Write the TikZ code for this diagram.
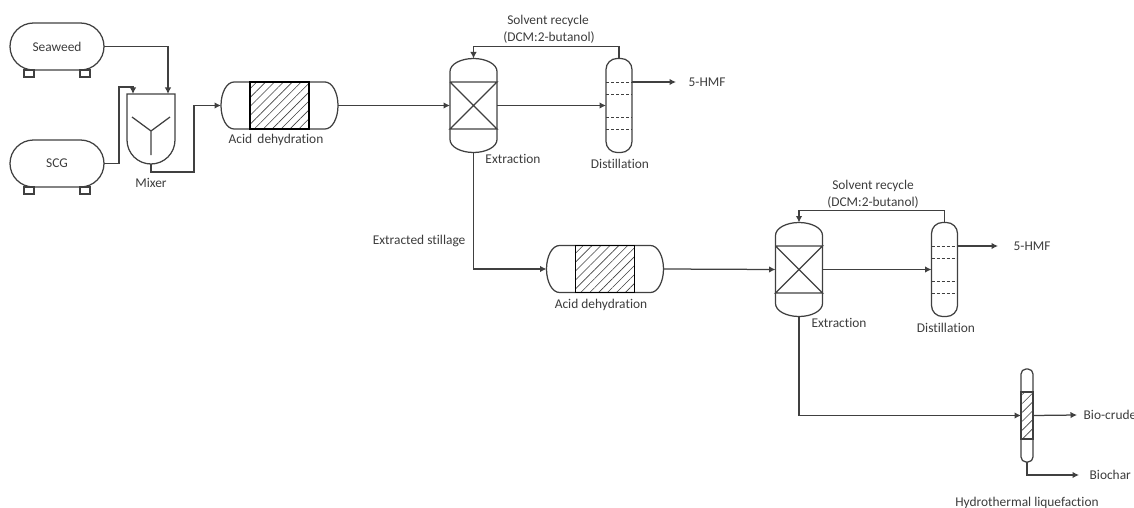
\documentclass[tikz,border=0pt]{standalone}
\usepackage{fontspec}
\setmainfont[Ligatures=NoCommon]{Carlito}
\usetikzlibrary{patterns.meta,arrows.meta}
\definecolor{linegray}{HTML}{404040}
\definecolor{textgray}{HTML}{3C3C3C}
\tikzset{
hitbox/.style={inner sep=0pt,outer sep=0pt,minimum width=#1},
tank/.style={draw=linegray,rounded corners=23.5pt,minimum width=94pt,minimum height=47pt,inner sep=0pt,outer sep=0pt},
foot/.style={draw=linegray,minimum width=10pt,minimum height=7pt,inner sep=0pt,outer sep=0pt},
hatchbed/.style={draw=black,inner sep=0pt,outer sep=0pt,pattern={Lines[angle=45,distance=6.3pt,line width=.6pt]},pattern color=linegray},
label/.style={text=textgray,inner sep=0pt,font=\fontsize{13.4}{15}\selectfont},
reactor/.pic={
\node[hitbox=117pt,minimum height=47pt] (shell) at (0,0) {};
\draw (-45.5,-23.5) arc[start angle=90,end angle=270,x radius=13pt,y radius=23.5pt] -- (45.5,23.5)
arc[start angle=-90,end angle=90,x radius=13pt,y radius=23.5pt] -- cycle;
\node[hatchbed,minimum width=59pt,minimum height=47pt] (bed) at (0,0) {};
},
extractor/.pic={
\node[hitbox=47pt,minimum height=94pt] (shell) at (0,0) {};
\draw (-23.5,-34) arc[start angle=180,end angle=0,x radius=23.5pt,y radius=13pt] -- (23.5,34)
arc[start angle=0,end angle=-180,x radius=23.5pt,y radius=13pt] -- cycle;
\draw (-23.5,-23.5)--(23.5,-23.5)--(-23.5,23.5)--(23.5,23.5)--(-23.5,-23.5);
},
column/.pic={
\node[draw=linegray,rounded corners=11pt,inner sep=0pt,outer sep=0pt,minimum width=26pt,minimum height=94pt] (shell) at (0,0) {};
\draw[densely dashed,line width=.35pt] (-13,-23.5)--(13,-23.5) (-13,-11.5)--(13,-11.5) (-13,11.5)--(13,11.5) (-13,23.5)--(13,23.5);
}
}
\begin{document}
\begin{tikzpicture}[x=1pt,y=-1pt,>={Latex[length=6.5pt,width=6.5pt]},line width=1.25pt,draw=linegray,color=linegray]
\useasboundingbox (0,0) rectangle (1134,508);
% feed tanks
\node[tank,label] (seaweed) at (57,46.5) {Seaweed};
\node[tank,label] (scg) at (57,163.5) {SCG};
\node[foot] (foot1) at (29,73.5) {};
\node[foot] (foot2) at (85,73.5) {};
\node[foot] (foot3) at (29,190.5) {};
\node[foot] (foot4) at (85,190.5) {};
% mixer
\node[hitbox=48pt,minimum height=70pt] (mixer) at (151,129) {};
\draw (127,94) -- (175,94) -- (175,140) arc[start angle=0,end angle=-180,radius=24pt] -- cycle;
\draw (132,117) -- (151,131) -- (170,117) (151,131) -- (151,155);
\node[label] (mixerlabel) at (151,183) {Mixer};
% first train
\pic (acid1) at (279.5,105.5) {reactor};
\node[label] (acid1label) at (276,140) {Acid\, dehydration};
\pic (ext1) at (473.5,105.5) {extractor};
\node[label] (ext1label) at (513,159) {Extraction};
\pic (dist1) at (619,105.5) {column};
\node[label] (dist1label) at (620,164) {Distillation};
\node[label] (recycle1a) at (548,21) {Solvent recycle};
\node[label] (recycle1b) at (549,38) {(DCM:2-butanol)};
\node[label,anchor=west] (hmf1) at (688,82) {5-HMF};
\node[label,anchor=east] (stillage) at (466,241) {Extracted stillage};
% second train
\pic (acid2) at (605,269) {reactor};
\node[label] (acid2label) at (601,305) {Acid dehydration};
\pic (ext2) at (799,269.5) {extractor};
\node[label] (ext2label) at (839,323) {Extraction};
\pic (dist2) at (944.5,269.5) {column};
\node[label] (dist2label) at (946,328) {Distillation};
\node[label] (recycle2a) at (873,186) {Solvent recycle};
\node[label] (recycle2b) at (873,203) {(DCM:2-butanol)};
\node[label,anchor=west] (hmf2) at (1013,246) {5-HMF};
% liquefaction
\node[draw=linegray,rounded corners=5pt,inner sep=0pt,outer sep=0pt,minimum width=12pt,minimum height=93pt] (htl) at (1027,415.5) {};
\node[hatchbed,draw=linegray,minimum width=12pt,minimum height=47pt] (htlbed) at (1027,415.5) {};
\node[label,anchor=west] (biocrude) at (1083,415) {Bio-crude};
\node[label,anchor=west] (biochar) at (1089,475) {Biochar};
\node[label] (htllabel) at (1027,503) {Hydrothermal liquefaction};
% connectors
\draw[->] (seaweed.east) -| ([xshift=17pt]mixer.north);
\draw[->] (scg.east) -- ++(15,0) |- ([xshift=-18pt,yshift=7pt]mixer.north) -- ([xshift=-18pt]mixer.north);
\draw[->] (mixer.south) -- ++(0,8) -| ([xshift=-27pt]acid1shell.west) -- (acid1shell.west);
\draw[->] (acid1shell.east) -- (ext1shell.west);
\draw[->] (ext1shell.east) -- (dist1shell.west);
\draw[->] (dist1shell.north) -- ++(0,-12) -| (ext1shell.north);
\draw[->] ([yshift=23.5pt]dist1shell.east) -- ([xshift=-12pt]hmf1.west);
\draw[->] (ext1shell.south) |- (acid2shell.west);
\draw[->] (acid2shell.east) -- (ext2shell.west);
\draw[->] (ext2shell.east) -- (dist2shell.west);
\draw[->] (dist2shell.north) -- ++(0,-12) -| (ext2shell.north);
\draw[->] ([yshift=23.5pt]dist2shell.east) -- ([xshift=-15pt]hmf2.west);
\draw[->] (ext2shell.south) |- (htl.west);
\draw[->] (htl.east) -- ([xshift=-6pt]biocrude.west);
\draw[->] (htl.south) |- ([xshift=-10pt]biochar.west);
\end{tikzpicture}
\end{document}
